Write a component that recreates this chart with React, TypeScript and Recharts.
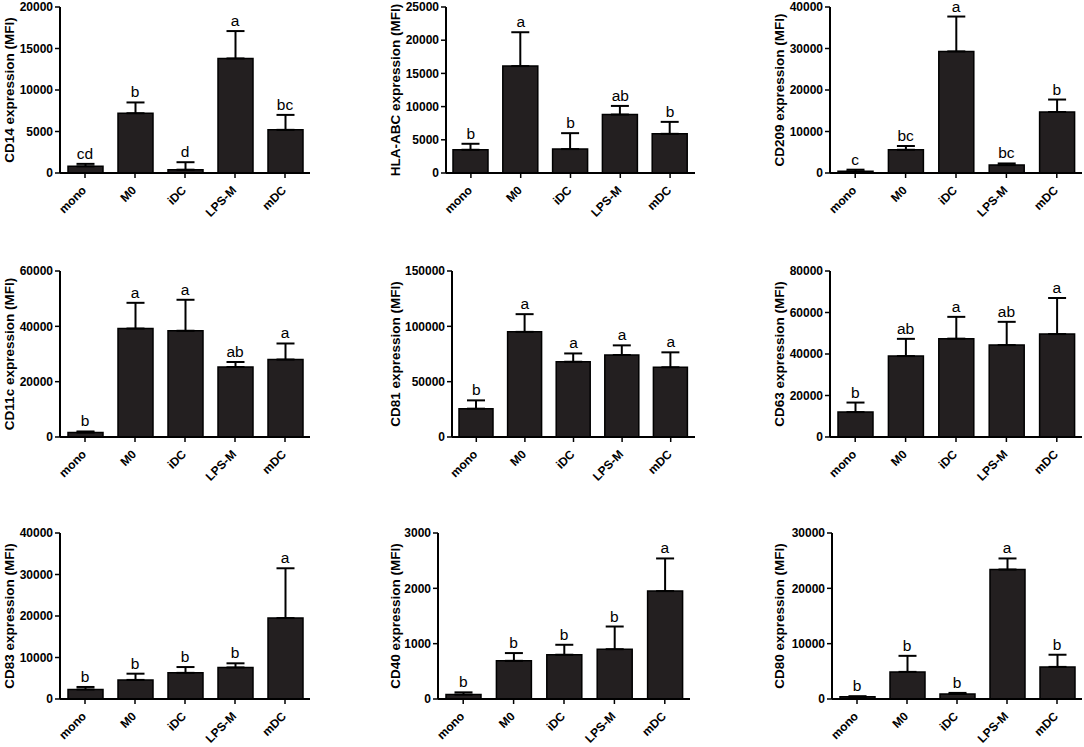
import React from 'react'
import { Bar, ComposedChart, ErrorBar, LabelList, Line, XAxis, YAxis } from 'recharts'

const CELL_TYPES = ['mono', 'M0', 'iDC', 'LPS-M', 'mDC']

// mean, SD (upper only) and significance letters per marker
const CD14_MEAN = [800, 7200, 400, 13800, 5200]
const CD14_SD = [300, 1300, 900, 3300, 1800]
const CD14_LETTERS = ['cd', 'b', 'd', 'a', 'bc']
const CD14_TICKS = [0, 5000, 10000, 15000, 20000]

const HLA_MEAN = [3500, 16100, 3600, 8800, 5900]
const HLA_SD = [900, 5100, 2400, 1300, 1800]
const HLA_LETTERS = ['b', 'a', 'b', 'ab', 'b']
const HLA_TICKS = [0, 5000, 10000, 15000, 20000, 25000]

const CD209_MEAN = [400, 5600, 29300, 1900, 14700]
const CD209_SD = [400, 900, 8400, 400, 3000]
const CD209_LETTERS = ['c', 'bc', 'a', 'bc', 'b']
const CD209_TICKS = [0, 10000, 20000, 30000, 40000]

const CD11C_MEAN = [1600, 39200, 38400, 25300, 28000]
const CD11C_SD = [400, 9300, 11200, 1800, 5800]
const CD11C_LETTERS = ['b', 'a', 'a', 'ab', 'a']
const CD11C_TICKS = [0, 20000, 40000, 60000]

const CD81_MEAN = [25600, 95000, 68000, 74100, 63000]
const CD81_SD = [7500, 16000, 7500, 8700, 13500]
const CD81_LETTERS = ['b', 'a', 'a', 'a', 'a']
const CD81_TICKS = [0, 50000, 100000, 150000]

const CD63_MEAN = [12000, 39000, 47400, 44300, 49600]
const CD63_SD = [4600, 8300, 10500, 11200, 17400]
const CD63_LETTERS = ['b', 'ab', 'a', 'ab', 'a']
const CD63_TICKS = [0, 20000, 40000, 60000, 80000]

const CD83_MEAN = [2300, 4600, 6300, 7600, 19500]
const CD83_SD = [600, 1500, 1400, 1000, 12000]
const CD83_LETTERS = ['b', 'b', 'b', 'b', 'a']
const CD83_TICKS = [0, 10000, 20000, 30000, 40000]

const CD40_MEAN = [80, 690, 800, 900, 1950]
const CD40_SD = [40, 140, 180, 410, 590]
const CD40_LETTERS = ['b', 'b', 'b', 'b', 'a']
const CD40_TICKS = [0, 1000, 2000, 3000]

const CD80_MEAN = [400, 4900, 900, 23400, 5800]
const CD80_SD = [100, 2900, 200, 2000, 2200]
const CD80_LETTERS = ['b', 'b', 'b', 'a', 'b']
const CD80_TICKS = [0, 10000, 20000, 30000]

const FONT = 'Arial, "Liberation Sans", sans-serif'
const INK = '#000'
const BAR_FILL = '#231f20'

// page layout: y-axis x and x-axis right end per panel, top tick y per row,
// and the x where each column's axis title sits
const AXIS_X = [60, 446, 830, 60, 452, 830, 60, 438, 832]
const PLOT_RIGHT = [310, 695, 1082, 310, 695, 1082, 310, 690, 1082]
const ROW_Y = [7, 271, 533]
const TITLE_X = [9, 395, 779]
const PLOT_H = 166
const TOP_PAD = 14
const AXIS_W = 72
const XAXIS_H = 62

interface PanelDef {
  title: string
  mean: number[]
  sd: number[]
  letters: string[]
  ticks: number[]
}

const PANELS: PanelDef[] = [
  { title: 'CD14 expression (MFI)', mean: CD14_MEAN, sd: CD14_SD, letters: CD14_LETTERS, ticks: CD14_TICKS },
  { title: 'HLA-ABC expression (MFI)', mean: HLA_MEAN, sd: HLA_SD, letters: HLA_LETTERS, ticks: HLA_TICKS },
  { title: 'CD209 expression (MFI)', mean: CD209_MEAN, sd: CD209_SD, letters: CD209_LETTERS, ticks: CD209_TICKS },
  { title: 'CD11c expression (MFI)', mean: CD11C_MEAN, sd: CD11C_SD, letters: CD11C_LETTERS, ticks: CD11C_TICKS },
  { title: 'CD81 expression (MFI)', mean: CD81_MEAN, sd: CD81_SD, letters: CD81_LETTERS, ticks: CD81_TICKS },
  { title: 'CD63 expression (MFI)', mean: CD63_MEAN, sd: CD63_SD, letters: CD63_LETTERS, ticks: CD63_TICKS },
  { title: 'CD83 expression (MFI)', mean: CD83_MEAN, sd: CD83_SD, letters: CD83_LETTERS, ticks: CD83_TICKS },
  { title: 'CD40 expression (MFI)', mean: CD40_MEAN, sd: CD40_SD, letters: CD40_LETTERS, ticks: CD40_TICKS },
  { title: 'CD80 expression (MFI)', mean: CD80_MEAN, sd: CD80_SD, letters: CD80_LETTERS, ticks: CD80_TICKS }
]

function CategoryTick({ x, y, payload }: any) {
  const ax = x + 2
  const ay = y + 11
  return (
    <text
      x={ax}
      y={ay}
      transform={`rotate(-45, ${ax}, ${ay})`}
      textAnchor="end"
      fontSize={12}
      fontWeight="bold"
      fontFamily={FONT}
      fill={INK}
    >
      {payload.value}
    </text>
  )
}

function Panel({ p, index }: { p: PanelDef; index: number }) {
  const data = CELL_TYPES.map((name, i) => ({
    name,
    value: p.mean[i],
    err: [0, p.sd[i]],
    top: p.mean[i] + p.sd[i],
    letter: p.letters[i]
  }))
  const max = p.ticks[p.ticks.length - 1]
  const axisX = AXIS_X[index]
  const plotW = PLOT_RIGHT[index] - axisX
  const left = axisX - AXIS_W
  const top = ROW_Y[Math.floor(index / 3)] - TOP_PAD
  // title offset from the axis, in the chart's own coordinates
  const titleShift = axisX - TITLE_X[index % 3]
  const barSize = Math.round((plotW / CELL_TYPES.length) * 0.7)

  return (
    <div style={{ position: 'absolute', left, top }}>
      <ComposedChart
        width={AXIS_W + plotW + 2}
        height={TOP_PAD + PLOT_H + XAXIS_H}
        data={data}
        margin={{ top: TOP_PAD, right: 2, bottom: 0, left: 0 }}
      >
        <XAxis
          dataKey="name"
          interval={0}
          height={XAXIS_H}
          axisLine={{ stroke: INK, strokeWidth: 2 }}
          tickLine={{ stroke: INK, strokeWidth: 1.5 }}
          tickSize={5}
          tick={<CategoryTick />}
        />
        <YAxis
          width={AXIS_W}
          domain={[0, max]}
          ticks={p.ticks}
          interval={0}
          axisLine={{ stroke: INK, strokeWidth: 2 }}
          tickLine={{ stroke: INK, strokeWidth: 1.5 }}
          tickSize={5}
          tick={{ fontSize: 12, fontWeight: 'bold', fontFamily: FONT, fill: INK }}
          label={{
            content: ({ viewBox }: any) => {
              const cx = viewBox.x + viewBox.width - titleShift
              const cy = viewBox.y + viewBox.height / 2
              return (
                <text
                  x={cx}
                  y={cy}
                  transform={`rotate(-90, ${cx}, ${cy})`}
                  textAnchor="middle"
                  dominantBaseline="central"
                  fontSize={13.5}
                  fontWeight="bold"
                  fontFamily={FONT}
                  fill={INK}
                >
                  {p.title}
                </text>
              )
            }
          }}
        />
        <Bar dataKey="value" barSize={barSize} fill={BAR_FILL} stroke={INK} strokeWidth={1.5} isAnimationActive={false}>
          <ErrorBar dataKey="err" width={9} strokeWidth={2} stroke={INK} direction="y" />
        </Bar>
        <Line dataKey="top" stroke="none" dot={false} activeDot={false} isAnimationActive={false}>
          <LabelList dataKey="letter" position="top" offset={5} fontSize={15.5} fontFamily={FONT} fill={INK} />
        </Line>
      </ComposedChart>
    </div>
  )
}

export default function App() {
  return (
    <div style={{ position: 'absolute', left: 0, top: 0, width: 1084, height: 747, background: '#fff' }}>
      {PANELS.map((p, i) => (
        <Panel key={p.title} p={p} index={i} />
      ))}
    </div>
  )
}
